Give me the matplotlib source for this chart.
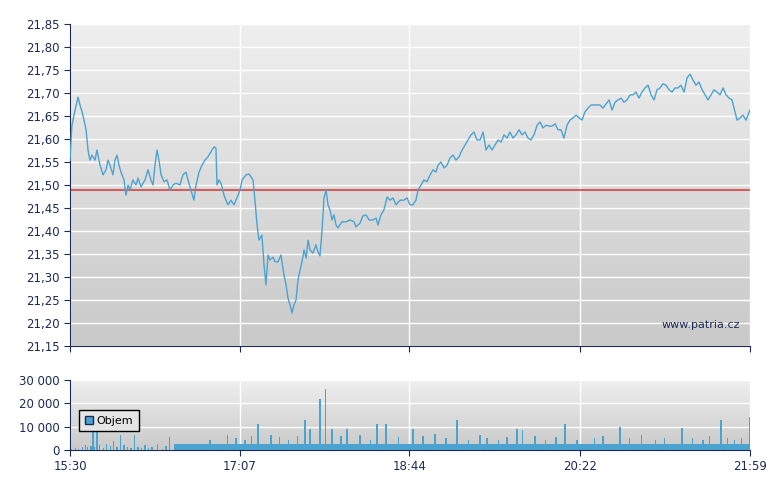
import numpy as np
import matplotlib
matplotlib.use("Agg")
import matplotlib.pyplot as plt
from matplotlib.patches import Patch

# minutes after 15:30
price_min = [0,1.1,2.9,4.6,5.7,6.9,8.0,9.2,10.3,11.4,12.6,14.3,15.4,17.2,18.9,20.6,21.7,22.9,24.6,25.7,26.9,28.0,29.2,30.9,32.0,33.2,34.3,36.0,37.8,38.9,40.6,42.9,44.6,46.3,47.5,48.6,49.8,50.9,52.1,53.8,55.5,57.2,58.9,60.6,62.9,64.6,66.4,67.5,69.2,70.9,72.1,73.8,75.5,77.2,78.9,81.2,82.4,83.5,84.1,85.2,86.4,88.1,89.2,90.4,92.1,93.8,95.5,97.3,98.4,100.7,102.4,104.7,105.8,107.0,108.1,109.8,111.0,112.1,113.3,114.4,116.1,117.3,119.0,120.7,122.4,123.6,124.7,125.9,127.0,128.1,129.3,130.4,131.6,132.7,133.9,135.1,136.2,137.3,139.0,140.7,141.9,143.0,144.2,145.3,146.5,147.6,148.7,149.9,151.0,152.2,153.3,155.6,157.9,160.2,162.5,163.6,165.9,167.6,169.3,171.1,173.3,175.1,176.2,177.9,179.6,181.4,183.1,184.8,186.5,188.8,191.1,192.8,194.5,196.2,197.9,199.1,200.8,202.5,204.2,206.0,207.7,209.4,210.5,212.2,214.0,215.7,217.4,219.1,220.8,222.5,224.3,226.0,227.7,229.4,231.1,232.8,234.6,236.3,238.0,239.7,241.4,243.1,244.9,246.6,248.3,250.0,251.7,253.4,255.1,256.9,258.6,260.3,262.0,263.7,265.4,267.2,268.9,270.6,272.3,274.0,275.7,277.5,279.2,280.9,282.6,284.3,286.0,287.8,289.5,291.2,292.9,294.6,296.3,298.1,299.8,301.5,303.2,304.9,306.6,308.4,310.1,311.8,313.5,315.2,316.9,318.6,320.4,322.1,323.8,325.5,327.2,328.9,330.7,332.4,334.1,335.8,337.5,339.2,341.0,342.7,344.4,346.1,347.8,349.5,351.3,353.0,354.7,356.4,358.1,359.8,361.6,363.3,365.0,366.7,368.4,370.1,371.9,373.6,375.3,377.0,378.7,380.4,381.6,383.3,385.0,386.7,389]
price_val = [21.554,21.630,21.663,21.691,21.674,21.659,21.641,21.620,21.576,21.554,21.565,21.554,21.576,21.543,21.522,21.533,21.554,21.543,21.522,21.554,21.565,21.543,21.528,21.511,21.478,21.500,21.489,21.511,21.500,21.515,21.496,21.511,21.533,21.511,21.500,21.543,21.576,21.554,21.522,21.507,21.511,21.489,21.500,21.504,21.500,21.522,21.528,21.511,21.489,21.467,21.500,21.528,21.543,21.554,21.561,21.576,21.583,21.580,21.500,21.511,21.504,21.478,21.467,21.457,21.467,21.457,21.472,21.489,21.511,21.522,21.524,21.511,21.467,21.413,21.380,21.391,21.326,21.283,21.348,21.337,21.343,21.333,21.333,21.348,21.304,21.283,21.254,21.239,21.222,21.239,21.250,21.293,21.315,21.333,21.359,21.341,21.380,21.359,21.352,21.370,21.354,21.346,21.402,21.472,21.489,21.457,21.446,21.424,21.435,21.413,21.407,21.420,21.420,21.424,21.420,21.409,21.417,21.433,21.435,21.424,21.424,21.428,21.413,21.435,21.446,21.474,21.467,21.472,21.457,21.467,21.467,21.472,21.457,21.457,21.467,21.489,21.500,21.511,21.507,21.522,21.533,21.528,21.543,21.550,21.537,21.543,21.559,21.565,21.554,21.561,21.576,21.587,21.598,21.609,21.615,21.598,21.598,21.615,21.576,21.587,21.576,21.587,21.598,21.593,21.609,21.602,21.615,21.602,21.609,21.620,21.609,21.615,21.602,21.598,21.609,21.630,21.637,21.624,21.630,21.628,21.628,21.633,21.620,21.620,21.602,21.630,21.641,21.646,21.652,21.646,21.641,21.659,21.667,21.674,21.674,21.674,21.674,21.667,21.676,21.685,21.663,21.680,21.685,21.689,21.680,21.685,21.696,21.696,21.702,21.689,21.702,21.711,21.717,21.696,21.685,21.707,21.711,21.720,21.717,21.707,21.702,21.711,21.711,21.717,21.702,21.733,21.741,21.728,21.717,21.724,21.707,21.696,21.685,21.696,21.707,21.702,21.696,21.711,21.696,21.689,21.685,21.659,21.641,21.646,21.652,21.641,21.663]
ref_price = 21.49

vol_base = 2500
vol_base_start = 60
vol_min = [1,3,5,7,9,10,12,13.2,14,15.4,17,19,21,23,25,27,29,31,33,35,37,39,41,43,45,47,50,53,55,57,
           80,90,95,100,104,107.6,115,120,125,130,134.4,137.3,143,146,149.9,155,158.5,166,172,175.6,180.8,
           188,196.2,202,208.8,215,221.4,228,234.6,238.6,245,250,255.7,259,266,272,278,283.2,290,300,305,
           314.6,320,327,335,340,350,356,362,366,372.4,376,380,384,389]
vol_val = [500,800,600,1500,2200,1200,1800,9000,1500,12000,2000,1000,2500,1800,4000,1200,6500,2000,1500,900,6500,1200,800,2000,1000,1500,2500,600,1800,5500,
           4500,6500,5000,4500,6000,11000,6500,5500,4500,6000,13000,9000,21800,26200,9000,6000,9000,6500,4500,11000,11000,
           5500,9000,6000,7000,5000,13000,4500,6500,5000,4500,5500,9000,8500,6000,4500,5500,11000,4500,5000,6000,
           10000,5000,6500,4500,5000,9500,5000,4500,6000,13000,5000,4500,5000,14000]

xticks = [0, 97, 194, 292, 389]
xlabels = ["15:30", "17:07", "18:44", "20:22", "21:59"]
pticks = [21.15,21.20,21.25,21.30,21.35,21.40,21.45,21.50,21.55,21.60,21.65,21.70,21.75,21.80,21.85]
vticks = [0, 10000, 20000, 30000]

navy = "#1b2b55"
line_c = "#4ba3d0"

fig = plt.figure(figsize=(7.8, 4.9), dpi=100)
ax = fig.add_axes([70/780, 1-346/490, 680/780, 322/490])
axv = fig.add_axes([70/780, 1-450/490, 680/780, 70/490])

def bg(a):
    grad = np.linspace(0, 1, 256).reshape(-1, 1)
    a.imshow(grad, extent=[0, 1, 0, 1], transform=a.transAxes, aspect="auto",
             cmap=matplotlib.colors.LinearSegmentedColormap.from_list("g", ["#efefef", "#c9c9c9"]),
             origin="upper", zorder=0)

for a in (ax, axv):
    bg(a)
    a.set_xlim(0, 389)
    a.set_xticks(xticks)
    a.grid(True, color="white", linewidth=1.0, zorder=1)
    for s in ("top", "right"):
        a.spines[s].set_visible(False)
    for s in ("left", "bottom"):
        a.spines[s].set_color(navy)
    a.tick_params(colors=navy, labelsize=8.5, length=4, direction="out")

ax.set_ylim(21.15, 21.85)
ax.set_yticks(pticks)
ax.set_yticklabels([f"{v:.2f}".replace(".", ",") for v in pticks])
ax.set_xticklabels([])
ax.axhline(ref_price, color="#d04040", linewidth=1.5, alpha=0.8, zorder=2)
ax.plot(price_min, price_val, color=line_c, linewidth=1.0, zorder=3)
ax.text(0.985, 0.05, "www.patria.cz", transform=ax.transAxes, ha="right", va="bottom",
        fontsize=8, color=navy, zorder=4)

axv.set_ylim(0, 30000)
axv.set_yticks(vticks)
axv.set_yticklabels([f"{v:,}".replace(",", " ") for v in vticks])
axv.set_xticklabels(xlabels)
mins = np.arange(vol_base_start, 390)
axv.bar(mins, [vol_base] * len(mins), width=1.0, color=line_c, zorder=2, linewidth=0)
axv.bar(vol_min, vol_val, width=0.8, color=line_c, zorder=3, linewidth=0)
leg = axv.legend(handles=[Patch(facecolor=line_c, edgecolor=navy, label="Objem")],
                 loc="upper left", bbox_to_anchor=(0.005, 0.65), fontsize=8,
                 fancybox=False, framealpha=1, handlelength=0.8, handletextpad=0.3,
                 borderpad=0.5, facecolor="#e6e6e6")
leg.get_frame().set_edgecolor("black")

fig.savefig("out.png", dpi=100)
